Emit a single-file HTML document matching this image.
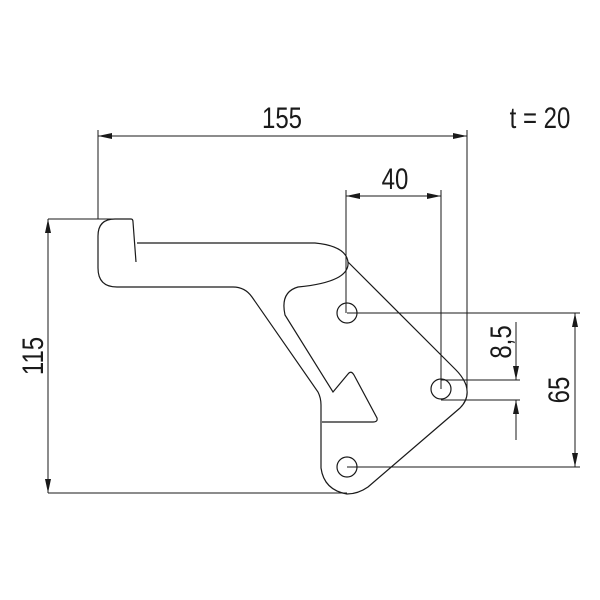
<!DOCTYPE html>
<html><head><style>
html,body{margin:0;padding:0;background:#fff;}
svg{display:block;}
text{font-family:"Liberation Sans",sans-serif;fill:#1a1a1a;}
</style></head><body>
<svg width="600" height="600" viewBox="0 0 600 600" xmlns="http://www.w3.org/2000/svg">
<defs>
<marker id="a" viewBox="0 0 14 6" refX="14" refY="3" markerWidth="14" markerHeight="6" markerUnits="userSpaceOnUse" orient="auto-start-reverse">
<path d="M0,0 L14,3 L0,6 Z" fill="#1a1a1a"/></marker>
</defs>
<g fill="none" stroke="#1a1a1a" stroke-width="1.2">
<path d="M131,219 L115,219 Q98,219 98,236 L98,268 Q98,287 117,287 L233,287 Q245,287 252,297 L318,392 Q321,398 321,405 L321,468 Q324,490 347,494 Q358,494 368,487 L460,408 Q470,398 466,385 Q463,377 456,370 L348,262 Q346,246 315,243 L137,243"/>
<path d="M131,219 Q133,219 133,222 L136,262"/>
<path d="M348,262 Q350,282 298,287 Q280,292 285,315 L333,392 L348,374 Q351,370 354,375 L377,418 Q378,422 373,422 L322,422"/>
<circle cx="347" cy="313" r="10"/>
<circle cx="441" cy="389" r="10"/>
<circle cx="347" cy="467" r="10"/>
</g>
<g fill="none" stroke="#1a1a1a" stroke-width="1">
<line x1="98" y1="130" x2="98" y2="219"/>
<line x1="467" y1="130" x2="467" y2="390"/>
<line x1="98" y1="136" x2="467" y2="136" marker-start="url(#a)" marker-end="url(#a)"/>
<line x1="346" y1="190" x2="346" y2="313"/>
<line x1="441" y1="190" x2="441" y2="389"/>
<line x1="346" y1="196" x2="441" y2="196" marker-start="url(#a)" marker-end="url(#a)"/>
<line x1="48" y1="219" x2="131" y2="219"/>
<line x1="48" y1="493" x2="347" y2="493"/>
<line x1="48" y1="219" x2="48" y2="493" marker-start="url(#a)" marker-end="url(#a)"/>
<line x1="347" y1="313" x2="580" y2="313"/>
<line x1="347" y1="467" x2="580" y2="467"/>
<line x1="575" y1="313" x2="575" y2="467" marker-start="url(#a)" marker-end="url(#a)"/>
<line x1="441" y1="380" x2="520" y2="380"/>
<line x1="441" y1="400" x2="520" y2="400"/>
<line x1="516" y1="322" x2="516" y2="380" marker-end="url(#a)"/>
<line x1="516" y1="440" x2="516" y2="400" marker-end="url(#a)"/>
</g>
<g font-size="30">
<text x="282" y="128" text-anchor="middle" transform="translate(282 0) scale(0.8 1) translate(-282 0)">155</text>
<text x="540" y="128" text-anchor="middle" transform="translate(540 0) scale(0.8 1) translate(-540 0)">t = 20</text>
<text x="395" y="189" text-anchor="middle" transform="translate(395 0) scale(0.8 1) translate(-395 0)">40</text>
<text transform="translate(43 356) rotate(-90) scale(0.8 1)" text-anchor="middle">115</text>
<text transform="translate(569 390) rotate(-90) scale(0.8 1)" text-anchor="middle">65</text>
<text transform="translate(511 342) rotate(-90) scale(0.8 1)" text-anchor="middle">8,5</text>
</g>
</svg>
</body></html>
